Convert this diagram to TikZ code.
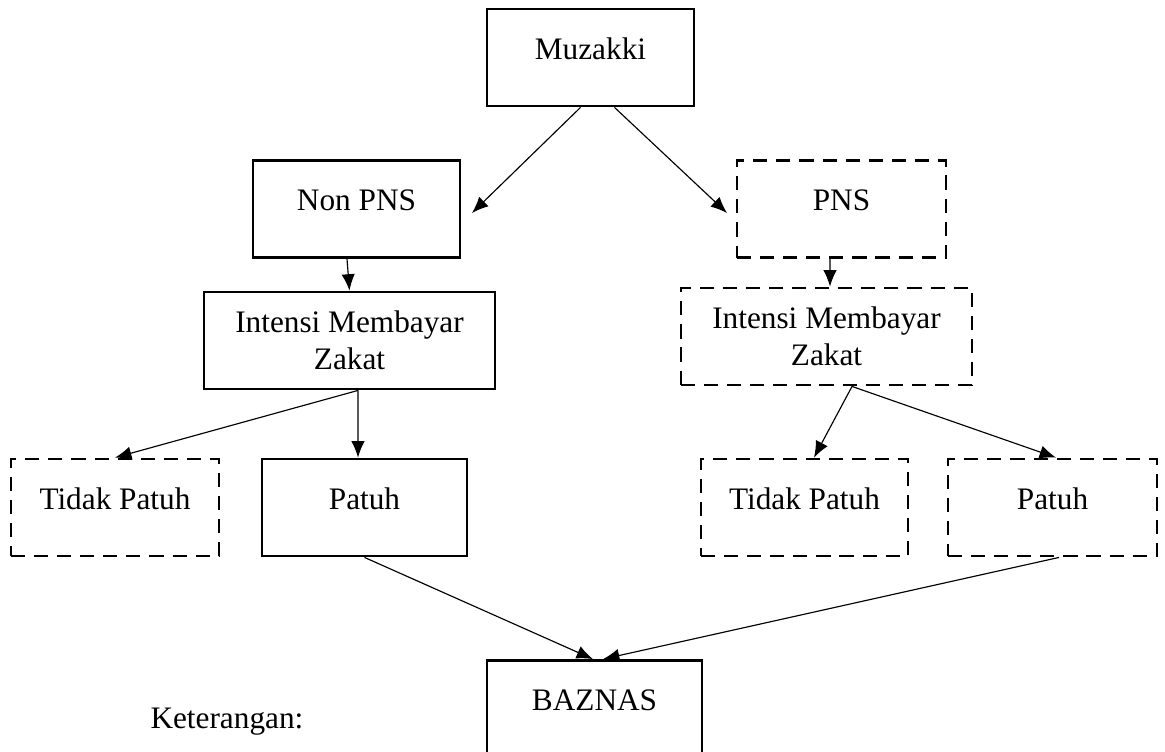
\documentclass[tikz,border=0pt]{standalone}
\usepackage{fontspec}
\setmainfont{Liberation Serif}
\usetikzlibrary{arrows.meta,calc}
\newcommand{\pxu}{0.39pt}
\tikzset{box/.style={draw=black, line width=1.1pt, minimum width={#1*\pxu}, minimum height={97*\pxu}, inner sep=2pt, align=center, font=\fontsize{12.2}{14.4}\selectfont}}
\tikzset{dbox/.style={box=#1, dash pattern=on 5.5pt off 3.5pt}}
\tikzset{oneline/.style={text height=8pt, text depth=6.5pt}}
\tikzset{arr/.style={-{Latex[length=6.4pt,width=5.2pt]}, line width=0.45pt}}

\begin{document}
\begin{tikzpicture}[x=\pxu, y=-\pxu]
\clip (0,0) rectangle (1165,751);
\node[box=207, oneline] (muz) at (590.5,57.5) {Muzakki};
\node[box=207, oneline] (nonpns) at (356.5,209) {Non PNS};
\node[dbox=209, oneline] (pns) at (841.5,209) {PNS};
\node[box=291] (intl) at (349.5,340.5) {Intensi Membayar\\Zakat};
\node[dbox=291] (intr) at (826.5,336.5) {Intensi Membayar\\Zakat};
\node[dbox=208, oneline] (tpl) at (115,507.5) {Tidak Patuh};
\node[box=205, oneline] (pl) at (364.5,507.5) {Patuh};
\node[dbox=207, oneline] (tpr) at (804.5,507.5) {Tidak Patuh};
\node[dbox=209, oneline] (pr) at (1052.5,507.5) {Patuh};
\node[box=215, oneline] (baz) at (594.5,709) {BAZNAS};
\node[anchor=west, inner sep=0pt, font=\fontsize{12.2}{14.4}\selectfont] (ket) at (150,722) {Keterangan:};
% free arrow ends beside the boxes
\coordinate (tipnon) at (472,213);
\coordinate (tippns) at (727,213);
\draw[arr] ($(muz.south)+(-10,0)$) -- (tipnon);
\draw[arr] ($(muz.south)+(24,0)$) -- (tippns);
\draw[arr] ($(nonpns.south)+(-9.5,0)$) -- (intl.north);
\draw[arr] ($(pns.south)+(-11.5,0)$) -- ($(intr.north)+(3.5,0)$);
\draw[arr] ($(intl.south)+(8.5,0)$) -- (tpl.north);
\draw[arr] ($(intl.south)+(8.5,0)$) -- ($(pl.north)+(-6.5,0)$);
\draw[arr] ($(intr.south)+(25.5,0)$) -- ($(tpr.north)+(9.5,0)$);
\draw[arr] ($(intr.south)+(25.5,0)$) -- ($(pr.north)+(3.5,0)$);
\draw[arr] (pl.south) -- ($(baz.north)+(-1.5,0)$);
\draw[arr] ($(pr.south)+(6.5,0)$) -- ($(baz.north)+(8.5,0)$);
\end{tikzpicture}
\end{document}
